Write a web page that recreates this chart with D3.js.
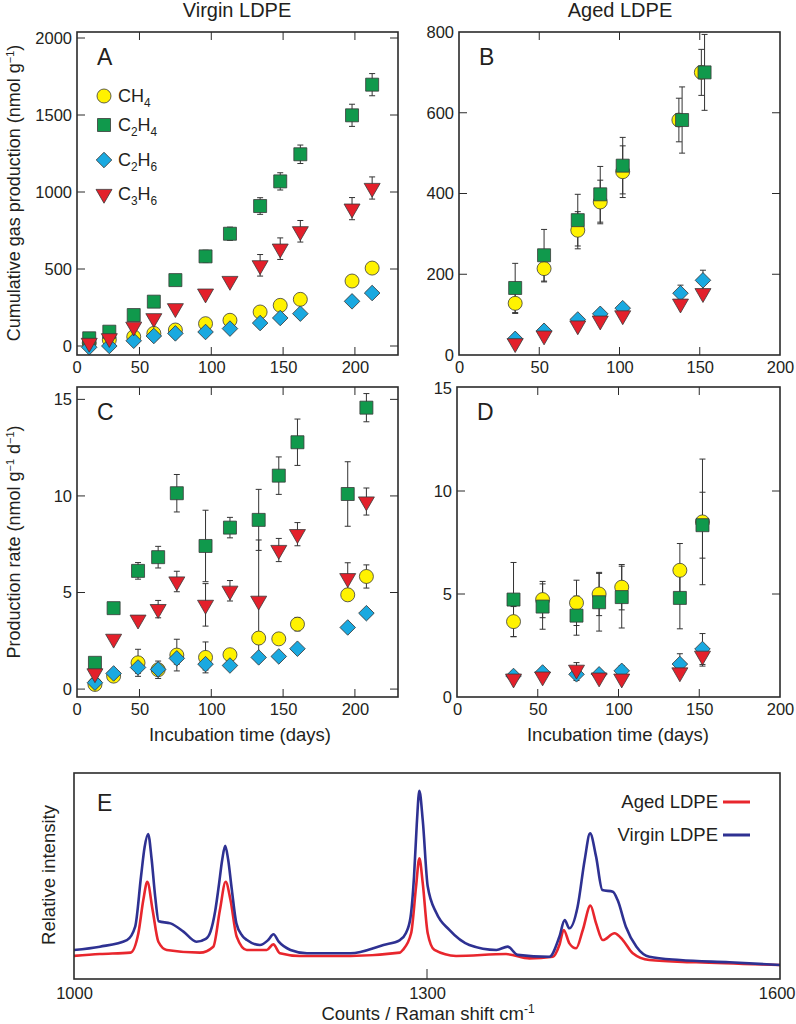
<!DOCTYPE html>
<html><head><meta charset="utf-8">
<script src="https://cdn.jsdelivr.net/npm/d3@7"></script>
<style>
body{margin:0;background:#fff}
svg{display:block}
text{font-family:"Liberation Sans",Arial,Helvetica,sans-serif;fill:#231f20}
</style>
</head><body>
<svg id="chart" width="796" height="1024"></svg>
<script>
// ---------------- DATA ----------------
const gasNames = ["CH4", "C2H4", "C2H6", "C3H6"];
const gasColors = ["#fff200", "#10994c", "#1aa9e0", "#e3202b"];

// Panel A: cumulative production, virgin LDPE (nmol g-1)
const daysA = [15, 29, 46, 60, 75, 96, 113, 134, 148, 162, 198, 212];
const aCH4  = [20, 40, 60, 82, 104, 145, 167, 221, 264, 303, 422, 506];
const aCH4e = [5, 5, 6, 8, 8, 10, 10, 12, 12, 14, 15, 15];
const aC2H4  = [50, 93, 201, 288, 428, 582, 729, 909, 1069, 1245, 1498, 1697];
const aC2H4e = [5, 5, 8, 10, 12, 40, 43, 54, 56, 60, 72, 72];
const aC2H6  = [-8, 0, 34, 65, 82, 91, 113, 149, 182, 210, 290, 344];
const aC2H6e = [3, 3, 4, 5, 5, 6, 6, 8, 8, 10, 10, 10];
const aC3H6  = [20, 50, 125, 180, 245, 340, 422, 524, 632, 745, 892, 1026];
const aC3H6e = [5, 5, 8, 8, 10, 12, 15, 70, 70, 70, 72, 72];

// Panel B: cumulative production, aged LDPE
const daysB_CH4 = [35, 53, 74, 88, 102, 137, 151];
const daysB = [35, 53, 74, 88, 102, 139, 153];
const bCH4  = [128, 214, 309, 379, 454, 582, 700];
const bCH4e = [25, 33, 46, 54, 64, 54, 57];
const bC2H4  = [166, 247, 334, 398, 469, 582, 700];
const bC2H4e = [61, 64, 64, 69, 70, 82, 94];
const daysB2 = [35, 53, 74, 88, 102, 138, 152];
const bC2H6  = [40, 60, 88, 102, 116, 153, 185];
const bC2H6e = [5, 5, 5, 5, 8, 20, 25];
const bC3H6  = [29, 48, 73, 85, 98, 127, 153];
const bC3H6e = [5, 5, 5, 5, 5, 8, 8];

// Panel C: production rate, virgin LDPE (nmol g-1 d-1)
const daysC = [19, 32, 49, 63, 76, 96, 113, 133, 147, 160, 195, 208];
const cCH4  = [0.24, 0.67, 1.36, 1.0, 1.76, 1.64, 1.78, 2.64, 2.6, 3.36, 4.88, 5.83];
const cCH4e = [0.05, 0.05, 0.7, 0.45, 0.82, 0.8, 0.2, 0.3, 0.2, 0.35, 0.3, 0.6];
const cC2H4  = [1.36, 4.19, 6.12, 6.83, 10.14, 7.41, 8.36, 8.76, 11.05, 12.78, 10.1, 14.57];
const cC2H4e = [0.05, 0.05, 0.43, 0.56, 0.97, 1.85, 0.53, 1.58, 0.97, 1.2, 1.67, 0.73];
const cC2H6  = [0.33, 0.81, 1.12, 1.02, 1.59, 1.29, 1.22, 1.64, 1.69, 2.09, 3.19, 3.93];
const cC2H6e = [0.05, 0.05, 0.3, 0.2, 0.3, 0.3, 0.1, 0.1, 0.1, 0.1, 0.1, 0.1];
const cC3H6  = [0.81, 2.6, 3.59, 4.14, 5.57, 4.36, 5.09, 4.57, 7.2, 8.02, 5.74, 9.71];
const cC3H6e = [0.05, 0.05, 0.1, 0.45, 0.53, 1.1, 0.53, 3.15, 0.6, 0.6, 0.8, 0.7];

// Panel D: production rate, aged LDPE
const daysD = [35, 53, 74, 88, 102, 138, 152];
const dCH4  = [3.66, 4.73, 4.57, 5.0, 5.33, 6.15, 8.5];
const dCH4e = [0.73, 0.88, 1.1, 1.05, 1.1, 1.3, 3.05];
const dC2H4  = [4.73, 4.39, 3.95, 4.6, 4.85, 4.81, 8.34];
const dC2H4e = [1.8, 1.1, 0.95, 1.4, 1.5, 1.5, 1.6];
const dC2H6  = [1.02, 1.19, 1.1, 1.1, 1.27, 1.6, 2.33];
const dC2H6e = [0.2, 0.2, 0.3, 0.2, 0.25, 0.5, 0.75];
const dC3H6  = [0.89, 0.99, 1.32, 0.94, 0.89, 1.19, 2.0];
const dC3H6e = [0.1, 0.1, 0.35, 0.1, 0.1, 0.1, 0.5];

// Panel E: Raman spectra (relative intensity)
const shiftVirgin = [1000,1022,1045,1052,1057,1060,1063,1066,1069,1072,1082,1093,1104,1112,1116,1120,1123,1126,1128.5,1131,1134,1138,1143,1147,1158,1165,1169.5,1174,1184,1198,1235,1263,1277,1282,1286,1289,1291.3,1293.5,1296.4,1300.6,1308,1319,1336,1359,1368.6,1377,1404,1412.5,1417,1421,1428,1434,1438.6,1443.7,1449,1458,1462,1469,1478,1489,1515,1557,1600];
const intVirgin = [14.1,15.7,18.9,25.4,50,64,70.4,58,40,28,27,23,18.1,19.5,23,33,45,58,64.6,58,44,27,21,18.9,16.5,18.9,21.7,18.1,14.1,12.5,12.5,16.5,18.9,22.2,30,50,75,91.4,77,45,32,23.8,16.5,14.1,15.7,11.7,10.8,20.5,28.6,24.6,35.1,57.8,70.7,59.4,43.2,42.4,38.3,25.4,15.7,10.8,9.2,8.1,6.8];
const shiftAged = [1000,1022,1048,1054.7,1058.9,1062.3,1066.8,1071.7,1078.8,1107,1118.4,1124,1128.9,1133,1138.3,1146.8,1163.8,1169.4,1175,1192,1235,1277,1279.4,1286.5,1290.7,1293.5,1296.4,1300.6,1306.3,1324.7,1367.2,1387,1407,1412.5,1416.2,1421,1426.7,1432.4,1438.9,1443.7,1449.4,1459.3,1466.4,1474.9,1489,1528.7,1600];
const intAged = [11.2,12.1,12.8,22.2,38.3,47.2,33.5,18.1,14.1,12.8,15.7,33.5,47.2,38.3,20.5,14.1,14.1,16.8,12.5,11.2,11.2,12.8,14.1,22.2,44.8,58.6,46.4,22.2,14.1,11.2,12.1,10.0,10.8,16.5,23.8,17.3,14.9,23.8,35.6,27.0,18.9,22.2,18.9,12.5,9.2,8.1,6.8];

// Tick labels
const ticksA_y = [0, 500, 1000, 1500, 2000];
const ticksB_y = [0, 200, 400, 600, 800];
const ticksCD_y = [0, 5, 10, 15];
const ticksAC_x = [50, 100, 150, 200];
const ticksBD_x = [0, 50, 100, 150, 200];
const ticksE_x = [1000, 1300, 1600];

// ---------------- DRAWING ----------------
const svg = d3.select("#chart");
const ink = "#2b2b2b";

function sym(gi) {
  if (gi === 0) return d3.symbol(d3.symbolCircle, Math.PI * 7 * 7)();
  if (gi === 1) return d3.symbol(d3.symbolSquare, 13 * 13)();
  if (gi === 2) return d3.symbol(d3.symbolSquare, 11 * 11)();
  return d3.symbol(d3.symbolTriangle, Math.sqrt(3) / 4 * 16 * 16)();
}
function symRot(gi) { return gi === 2 ? 45 : (gi === 3 ? 180 : 0); }

function addChem(t, name, fs) {
  const parts = name.match(/[A-Z][a-z]?|\d+/g);
  let sub = false;
  parts.forEach(p => {
    const isNum = /\d/.test(p);
    const ts = t.append("tspan").text(p);
    if (isNum && !sub) { ts.attr("dy", 5).attr("font-size", fs * 0.66); sub = true; }
    else if (!isNum && sub) { ts.attr("dy", -5); sub = false; }
  });
}

function panel(cfg) {
  const { L, R, T, B, x, y, xTicks, yTicks, series, letter, zeroX } = cfg;
  const g = svg.append("g");
  xTicks.forEach(v => {
    const px = x(v);
    if (px <= L + 1 || px >= R - 1) return;
    g.append("line").attr("x1", px).attr("x2", px).attr("y1", B).attr("y2", B - 8).attr("stroke", ink).attr("stroke-width", 1);
    g.append("line").attr("x1", px).attr("x2", px).attr("y1", T).attr("y2", T + 8).attr("stroke", ink).attr("stroke-width", 1);
  });
  yTicks.forEach(v => {
    const py = y(v);
    if (py <= T + 1 || py >= B - 1) return;
    g.append("line").attr("x1", L).attr("x2", L + 8).attr("y1", py).attr("y2", py).attr("stroke", ink).attr("stroke-width", 1);
    g.append("line").attr("x1", R).attr("x2", R - 8).attr("y1", py).attr("y2", py).attr("stroke", ink).attr("stroke-width", 1);
  });
  const ax = g.append("g").attr("transform", `translate(0,${B})`)
    .call(d3.axisBottom(x).tickValues(xTicks).tickSize(0).tickPadding(6).tickFormat(d3.format("d")));
  const ay = g.append("g").attr("transform", `translate(${L},0)`)
    .call(d3.axisLeft(y).tickValues(yTicks).tickSize(0).tickPadding(5).tickFormat(d3.format("d")));
  [ax, ay].forEach(a => {
    a.select(".domain").remove();
    a.selectAll("text").attr("font-size", 16.5).attr("fill", "#231f20")
      .style("font-family", '"Liberation Sans", Arial, sans-serif');
  });
  if (zeroX) {
    g.append("text").attr("x", L).attr("y", B + 6).attr("dy", "0.71em").attr("text-anchor", "middle")
      .attr("font-size", 16.5).text("0");
  }
  const eg = g.append("g");
  series.forEach(s => {
    s.days.forEach((d, i) => {
      const e = s.err[i];
      if (!e) return;
      const px = x(d), y1 = y(s.vals[i] - e), y2 = y(s.vals[i] + e);
      eg.append("line").attr("x1", px).attr("x2", px).attr("y1", y1).attr("y2", y2).attr("stroke", "#333").attr("stroke-width", 1);
      [y1, y2].forEach(yy => eg.append("line").attr("x1", px - 3).attr("x2", px + 3).attr("y1", yy).attr("y2", yy).attr("stroke", "#333").attr("stroke-width", 1));
    });
  });
  series.forEach(s => {
    g.append("g").selectAll("path").data(s.days.map((d, i) => [d, s.vals[i]])).join("path")
      .attr("d", sym(s.gi))
      .attr("transform", d => `translate(${x(d[0])},${y(d[1])}) rotate(${symRot(s.gi)})`)
      .attr("fill", gasColors[s.gi]).attr("stroke", "#3a3a3a").attr("stroke-width", 0.8);
  });
  g.append("rect").attr("x", L).attr("y", T).attr("width", R - L).attr("height", B - T)
    .attr("fill", "none").attr("stroke", ink).attr("stroke-width", 1.6);
  g.append("text").attr("x", L + 20).attr("y", T + 33).attr("font-size", 23).text(letter);
  return g;
}

const xA = d3.scaleLinear().domain([6.5, 230]).range([77, 398]);
const yA = d3.scaleLinear().domain([-58.4, 2039]).range([355, 32]);
const xB = d3.scaleLinear().domain([0, 200]).range([459, 780]);
const yB = d3.scaleLinear().domain([0, 800]).range([355, 32]);
const xC = d3.scaleLinear().domain([6.5, 230]).range([77, 398]);
const yC = d3.scaleLinear().domain([-0.41, 15.64]).range([697, 387]);
const xD = d3.scaleLinear().domain([0, 200]).range([457, 780]);
const yD = d3.scaleLinear().domain([0, 15]).range([697, 388]);

panel({ L: 77, R: 398, T: 32, B: 355, x: xA, y: yA, xTicks: ticksAC_x, yTicks: ticksA_y, letter: "A", zeroX: true,
  series: [
    { gi: 0, days: daysA, vals: aCH4, err: aCH4e },
    { gi: 1, days: daysA, vals: aC2H4, err: aC2H4e },
    { gi: 2, days: daysA, vals: aC2H6, err: aC2H6e },
    { gi: 3, days: daysA, vals: aC3H6, err: aC3H6e }] });
panel({ L: 459, R: 780, T: 32, B: 355, x: xB, y: yB, xTicks: ticksBD_x, yTicks: ticksB_y, letter: "B",
  series: [
    { gi: 0, days: daysB_CH4, vals: bCH4, err: bCH4e },
    { gi: 1, days: daysB, vals: bC2H4, err: bC2H4e },
    { gi: 2, days: daysB2, vals: bC2H6, err: bC2H6e },
    { gi: 3, days: daysB2, vals: bC3H6, err: bC3H6e }] });
panel({ L: 77, R: 398, T: 387, B: 697, x: xC, y: yC, xTicks: ticksAC_x, yTicks: ticksCD_y, letter: "C", zeroX: true,
  series: [
    { gi: 0, days: daysC, vals: cCH4, err: cCH4e },
    { gi: 1, days: daysC, vals: cC2H4, err: cC2H4e },
    { gi: 2, days: daysC, vals: cC2H6, err: cC2H6e },
    { gi: 3, days: daysC, vals: cC3H6, err: cC3H6e }] });
panel({ L: 457, R: 780, T: 387, B: 697, x: xD, y: yD, xTicks: ticksBD_x, yTicks: ticksCD_y, letter: "D",
  series: [
    { gi: 0, days: daysD, vals: dCH4, err: dCH4e },
    { gi: 1, days: daysD, vals: dC2H4, err: dC2H4e },
    { gi: 2, days: daysD, vals: dC2H6, err: dC2H6e },
    { gi: 3, days: daysD, vals: dC3H6, err: dC3H6e }] });

// Legend in A
const legY = [96, 125, 160, 194];
gasNames.forEach((n, i) => {
  svg.append("path").attr("d", sym(i))
    .attr("transform", `translate(104,${legY[i]}) rotate(${symRot(i)})`)
    .attr("fill", gasColors[i]).attr("stroke", "#3a3a3a").attr("stroke-width", 0.8);
  const t = svg.append("text").attr("x", 118).attr("y", legY[i] + 6).attr("font-size", 18);
  addChem(t, n, 18);
});

// Column titles
svg.append("text").attr("x", 237).attr("y", 17).attr("text-anchor", "middle").attr("font-size", 20).text("Virgin LDPE");
svg.append("text").attr("x", 620).attr("y", 17).attr("text-anchor", "middle").attr("font-size", 20).text("Aged LDPE");

// Y-axis titles
function yTitle(cx, cy, parts) {
  const t = svg.append("text").attr("transform", `translate(${cx},${cy}) rotate(-90)`)
    .attr("text-anchor", "middle").attr("font-size", 18);
  parts.forEach(p => {
    if (p.sup) t.append("tspan").attr("dy", -6).attr("font-size", 11).text(p.s);
    else if (p.after) t.append("tspan").attr("dy", 6).text(p.s);
    else t.append("tspan").text(p.s);
  });
}
yTitle(20, 193, [{ s: "Cumulative gas production (nmol g" }, { s: "−1", sup: true }, { s: ")", after: true }]);
yTitle(20, 542, [{ s: "Production rate (nmol g" }, { s: "−1", sup: true }, { s: " d", after: true }, { s: "−1", sup: true }, { s: ")", after: true }]);

// X-axis titles
svg.append("text").attr("x", 240).attr("y", 741).attr("text-anchor", "middle").attr("font-size", 18.5).text("Incubation time (days)");
svg.append("text").attr("x", 618).attr("y", 741).attr("text-anchor", "middle").attr("font-size", 18.5).text("Incubation time (days)");

// ---------------- Panel E ----------------
const EL = 74, ER = 780, ET = 773, EB = 979;
const xE = d3.scaleLinear().domain([1000, 1600]).range([EL, ER]);
const yE = d3.scaleLinear().domain([0, 100]).range([EB, ET]);
const gE = svg.append("g");
const lineGen = d3.line().x(d => xE(d[0])).y(d => yE(d[1])).curve(d3.curveMonotoneX);
gE.append("path").datum(shiftAged.map((s, i) => [s, intAged[i]])).attr("d", lineGen)
  .attr("fill", "none").attr("stroke", "#e8262d").attr("stroke-width", 2.6).attr("stroke-linejoin", "round");
gE.append("path").datum(shiftVirgin.map((s, i) => [s, intVirgin[i]])).attr("d", lineGen)
  .attr("fill", "none").attr("stroke", "#2e3192").attr("stroke-width", 2.6).attr("stroke-linejoin", "round");
gE.append("line").attr("x1", xE(1300)).attr("x2", xE(1300)).attr("y1", EB).attr("y2", EB - 10).attr("stroke", ink).attr("stroke-width", 1);
gE.append("rect").attr("x", EL).attr("y", ET).attr("width", ER - EL).attr("height", EB - ET)
  .attr("fill", "none").attr("stroke", ink).attr("stroke-width", 1.6);
const axE = gE.append("g").attr("transform", `translate(0,${EB})`)
  .call(d3.axisBottom(xE).tickValues(ticksE_x).tickSize(0).tickPadding(8).tickFormat(d3.format("d")));
axE.select(".domain").remove();
axE.selectAll("text").attr("font-size", 16.5).attr("fill", "#231f20").style("font-family", '"Liberation Sans", Arial, sans-serif')
  .attr("text-anchor", d => d === 1600 ? "end" : "middle")
  .attr("dx", d => d === 1600 ? 15 : 0);
gE.append("text").attr("x", 97).attr("y", 811).attr("font-size", 23).text("E");
const legE = [["Aged LDPE", "#e8262d", 802], ["Virgin LDPE", "#2e3192", 835]];
legE.forEach(l => {
  gE.append("text").attr("x", 718).attr("y", l[2] + 6).attr("text-anchor", "end").attr("font-size", 18.5).text(l[0]);
  gE.append("line").attr("x1", 723).attr("x2", 750).attr("y1", l[2]).attr("y2", l[2]).attr("stroke", l[1]).attr("stroke-width", 3);
});
gE.append("text").attr("transform", "translate(55,875) rotate(-90)").attr("text-anchor", "middle").attr("font-size", 18.5).text("Relative intensity");
const tE = gE.append("text").attr("x", 428).attr("y", 1020).attr("text-anchor", "middle").attr("font-size", 18.5);
tE.append("tspan").text("Counts / Raman shift cm");
tE.append("tspan").attr("dy", -7).attr("font-size", 12).text("-1");
</script>
</body></html>
